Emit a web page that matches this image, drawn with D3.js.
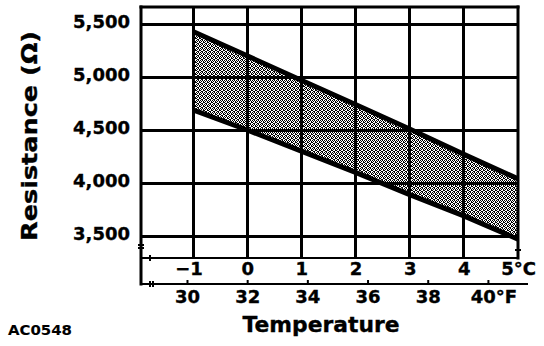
<!DOCTYPE html>
<html>
<head>
<meta charset="utf-8">
<script src="https://cdn.jsdelivr.net/npm/d3@7"></script>
<style>
  html, body { margin: 0; padding: 0; background: #fff; }
  svg { display: block; }
  text { font-family: "DejaVu Sans", sans-serif; font-weight: bold; fill: #000; stroke: #000; stroke-width: 0.35px; }
</style>
</head>
<body>
<svg id="chart" width="544" height="346"></svg>
<script>
// Temperature (°C) at each gridline and the resistance band limits (Ω)
const tempC = [-1, 0, 1, 2, 3, 4, 5];
const upperOhm = [5430, 5200, 4970, 4740, 4510, 4270, 4040];
const lowerOhm = [4690, 4500, 4300, 4100, 3890, 3690, 3470];

// Axis tick values
const ohmTicks = [3500, 4000, 4500, 5000, 5500];
const cTicks = [-1, 0, 1, 2, 3, 4, 5];
const fTicks = [30, 32, 34, 36, 38, 40];

const svg = d3.select("#chart");

const x = d3.scaleLinear().domain([-1, 5]).range([193, 518]);
const y = d3.scaleLinear().domain([3500, 5500]).range([236, 24]);
const fToC = f => (f - 32) * 5 / 9;

const boxLeft = 141, boxTop = 7, boxRight = x(5);
const cAxisY = 258, fAxisY = 284;

// Stipple texture for the band
const defs = svg.append("defs");
const pat = defs.append("pattern")
  .attr("id", "stipple")
  .attr("patternUnits", "userSpaceOnUse")
  .attr("width", 4).attr("height", 4);
pat.append("rect").attr("width", 4).attr("height", 4).attr("fill", "#fff");
[[0,0],[2,0],[1,1],[3,1],[0,2],[3,2],[1,3],[2,3]].forEach(([px, py]) => {
  pat.append("rect").attr("x", px).attr("y", py)
    .attr("width", 1).attr("height", 1).attr("fill", "#000");
});

const band = tempC.map((t, i) => ({ t, lo: lowerOhm[i], hi: upperOhm[i] }));

// Shaded band
svg.append("path")
  .datum(band)
  .attr("fill", "url(#stipple)")
  .attr("d", d3.area().x(d => x(d.t)).y0(d => y(d.lo)).y1(d => y(d.hi)));

// Grid
const grid = svg.append("g").attr("stroke", "#000").attr("stroke-width", 3)
  .attr("shape-rendering", "crispEdges");
grid.selectAll("line.h").data(ohmTicks).join("line")
  .attr("x1", boxLeft).attr("x2", boxRight)
  .attr("y1", d => y(d)).attr("y2", d => y(d));
grid.selectAll("line.v").data(cTicks.slice(0, -1)).join("line")
  .attr("x1", d => x(d)).attr("x2", d => x(d))
  .attr("y1", boxTop).attr("y2", cAxisY);

// Frame: top, right, left and the two temperature axes
const frame = svg.append("g").attr("stroke", "#000").attr("stroke-width", 3)
  .attr("fill", "none").attr("stroke-linecap", "square");
frame.append("line").attr("x1", boxLeft).attr("x2", boxRight).attr("y1", boxTop).attr("y2", boxTop);
frame.append("line").attr("x1", boxRight).attr("x2", boxRight).attr("y1", boxTop).attr("y2", cAxisY);
frame.append("line").attr("x1", boxLeft).attr("x2", boxLeft).attr("y1", boxTop).attr("y2", fAxisY);
frame.append("line").attr("x1", boxLeft).attr("x2", boxRight).attr("y1", cAxisY).attr("y2", cAxisY)
  .attr("stroke-width", 2);
frame.append("line").attr("x1", boxLeft).attr("x2", 527).attr("y1", fAxisY).attr("y2", fAxisY)
  .attr("stroke-width", 2);

// Band limit lines
const line = d3.line().x(d => x(d[0])).y(d => y(d[1]));
svg.append("path").datum(tempC.map((t, i) => [t, upperOhm[i]]))
  .attr("d", line).attr("fill", "none").attr("stroke", "#000").attr("stroke-width", 5);
svg.append("path").datum(tempC.map((t, i) => [t, lowerOhm[i]]))
  .attr("d", line).attr("fill", "none").attr("stroke", "#000").attr("stroke-width", 5);

// Axis break marks
const brk = svg.append("g").attr("stroke", "#000").attr("stroke-width", 2);
brk.append("line").attr("x1", boxLeft - 3).attr("x2", boxLeft + 3).attr("y1", 245).attr("y2", 245);
brk.append("line").attr("x1", boxLeft - 3).attr("x2", boxLeft + 3).attr("y1", 248).attr("y2", 248);
brk.append("line").attr("x1", 150).attr("x2", 150).attr("y1", cAxisY - 3).attr("y2", cAxisY + 3);
brk.append("line").attr("x1", 150).attr("x2", 150).attr("y1", fAxisY - 3).attr("y2", fAxisY + 3);
brk.append("line").attr("x1", 153).attr("x2", 153).attr("y1", fAxisY - 3).attr("y2", fAxisY + 3);
brk.append("line").attr("x1", boxRight - 3).attr("x2", boxRight + 3).attr("y1", 250).attr("y2", 250);

const labelStyle = sel => sel
  .style("font-size", "18px")
  .style("font-family", "'DejaVu Sans', sans-serif")
  .style("font-weight", "bold")
  .style("stroke", "#000")
  .style("stroke-width", "0.35px");

// Resistance axis labels
const yAxis = svg.append("g")
  .attr("transform", `translate(${boxLeft},0)`)
  .call(d3.axisLeft(y).tickValues(ohmTicks).tickFormat(d3.format(",")).tickSize(0).tickPadding(11));
yAxis.select(".domain").remove();
yAxis.selectAll("text").attr("dy", "0.2em").call(labelStyle);

// Celsius axis labels
const cAxis = svg.append("g")
  .attr("transform", `translate(0,${cAxisY})`)
  .call(d3.axisBottom(x).tickValues(cTicks)
    .tickFormat(d => d === 5 ? "5°C" : d < 0 ? "\u2212" + Math.abs(d) : String(d))
    .tickSize(0).tickPadding(4));
cAxis.select(".domain").remove();
cAxis.selectAll("text").call(labelStyle)
  .attr("dx", d => d < 0 ? "-0.25em" : 0);

// Fahrenheit axis
const xF = d3.scaleLinear().domain([30, 40]).range([x(fToC(30)), x(fToC(40))]);
const fAxis = svg.append("g")
  .attr("transform", `translate(0,${fAxisY})`)
  .call(d3.axisBottom(xF).tickValues(fTicks)
    .tickFormat(d => d === 40 ? "40°F" : String(d))
    .tickSize(0).tickPadding(6));
fAxis.select(".domain").remove();
fAxis.selectAll("text").call(labelStyle)
  .attr("dx", d => d === 40 ? "0.3em" : 0);
fAxis.selectAll(".tick").append("line")
  .attr("y1", 0).attr("y2", -4).attr("stroke", "#000").attr("stroke-width", 2);

// Titles
svg.append("text")
  .attr("x", 321).attr("y", 332)
  .attr("text-anchor", "middle")
  .attr("textLength", 157)
  .attr("lengthAdjust", "spacingAndGlyphs")
  .style("font-size", "21px")
  .text("Temperature");

svg.append("text")
  .attr("transform", "translate(37,136) rotate(-90)")
  .attr("text-anchor", "middle")
  .attr("textLength", 210)
  .attr("lengthAdjust", "spacingAndGlyphs")
  .style("font-size", "22px")
  .text("Resistance (Ω)");

svg.append("text")
  .attr("x", 8).attr("y", 335)
  .attr("textLength", 64)
  .attr("lengthAdjust", "spacingAndGlyphs")
  .style("font-size", "14px")
  .style("stroke-width", "0.1px")
  .text("AC0548");
</script>
</body>
</html>
